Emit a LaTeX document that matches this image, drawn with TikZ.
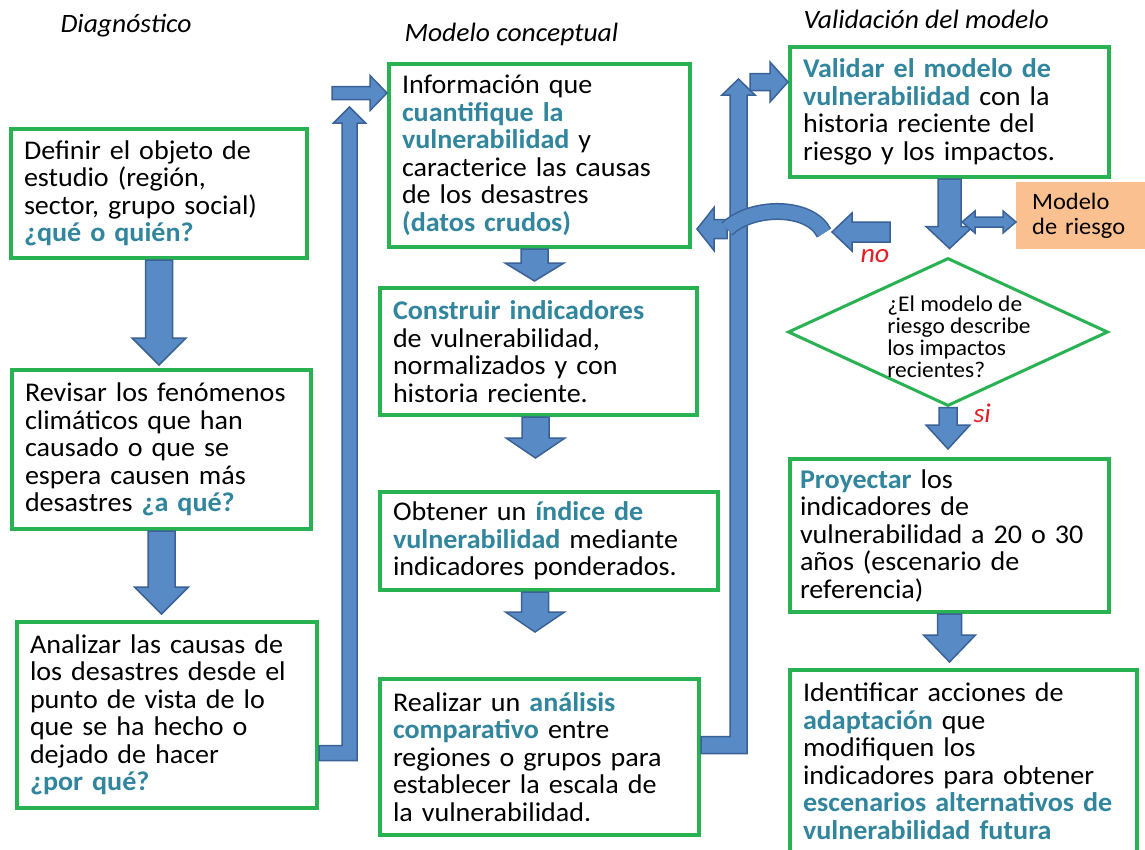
\documentclass[tikz,border=0pt]{standalone}
\usepackage{fontspec}
\setmainfont{Carlito}[FakeStretch=1.04]
\usetikzlibrary{shapes.geometric,calc}
\definecolor{boxgreen}{RGB}{40,178,82}
\definecolor{tblue}{RGB}{49,133,156}
\definecolor{blkfill}{RGB}{88,138,198}
\definecolor{blkline}{RGB}{58,98,150}
\definecolor{nored}{RGB}{228,30,36}
\definecolor{orangefill}{RGB}{250,192,144}
\newcommand\bluebf[1]{\textcolor{tblue}{\textbf{#1}}}
% down block arrow: from, tip, half shaft, half head, head length
\newcommand\blkdown[5]{%
 \path[blk] let \p1=#1, \p2=#2 in ({\x1-#3},\y1) -- ({\x1+#3},\y1) -- ({\x1+#3},{\y2+#5}) -- ({\x1+#4},{\y2+#5}) -- (\x1,\y2) -- ({\x1-#4},{\y2+#5}) -- ({\x1-#3},{\y2+#5}) -- cycle;}
% right block arrow
\newcommand\blkright[5]{%
 \path[blk] let \p1=#1, \p2=#2 in (\x1,{\y1+#3}) -- ({\x2-#5},{\y1+#3}) -- ({\x2-#5},{\y1+#4}) -- (\x2,\y1) -- ({\x2-#5},{\y1-#4}) -- ({\x2-#5},{\y1-#3}) -- (\x1,{\y1-#3}) -- cycle;}
% left block arrow
\newcommand\blkleft[5]{%
 \path[blk] let \p1=#1, \p2=#2 in (\x1,{\y1+#3}) -- ({\x2+#5},{\y1+#3}) -- ({\x2+#5},{\y1+#4}) -- (\x2,\y1) -- ({\x2+#5},{\y1-#4}) -- ({\x2+#5},{\y1-#3}) -- (\x1,{\y1-#3}) -- cycle;}
% double horizontal arrow
\newcommand\blkdbl[5]{%
 \path[blk] let \p1=#1, \p2=#2 in (\x1,\y1) -- ({\x1+#5},{\y1+#4}) -- ({\x1+#5},{\y1+#3}) -- ({\x2-#5},{\y1+#3}) -- ({\x2-#5},{\y1+#4}) -- (\x2,\y1) -- ({\x2-#5},{\y1-#4}) -- ({\x2-#5},{\y1-#3}) -- ({\x1+#5},{\y1-#3}) -- ({\x1+#5},{\y1-#4}) -- cycle;}
% L-shaped connector: start at box side, tip at top
\newcommand\blkLup[5]{%
 \path[blk] let \p1=#1, \p3=#2 in (\x1,{\y1+#3}) -- ({\x3-#3},{\y1+#3}) -- ({\x3-#3},{\y3-#5}) -- ({\x3-#4},{\y3-#5}) -- (\x3,\y3) -- ({\x3+#4},{\y3-#5}) -- ({\x3+#3},{\y3-#5}) -- ({\x3+#3},{\y1-#3}) -- (\x1,{\y1-#3}) -- cycle;}
\begin{document}
\begin{tikzpicture}[x=1pt,y=-1pt,
  gbox/.style={draw=boxgreen,line width=4pt,fill=white,align=left,anchor=north west,
    inner xsep=13pt,inner ysep=0pt,font=\fontsize{27}{27.5}\selectfont},
  blk/.style={fill=blkfill,draw=blkline,line width=1.5pt,line join=miter},
  head/.style={anchor=base west,font=\fontsize{26.5}{30}\selectfont\itshape},
  ans/.style={anchor=base west,text=nored,font=\fontsize{27}{30}\selectfont\itshape}]
\fill[white] (0,0) rectangle (1145,849);
\useasboundingbox (0,0) rectangle (1145,849);

% headings
\node[head] (h1) at (57,32) {Diagnóstico};
\node[head] (h2) at (401,41) {Modelo conceptual};
\node[head] (h3) at (800,28) {Validación del modelo};

% coordinates for connectors
\coordinate (c1) at (349.5,753);
\coordinate (t1) at (349.5,107);
\coordinate (c2) at (738.5,745);
\coordinate (t2) at (738.5,79);
\coordinate (a1) at (332,93);
\coordinate (a2) at (750,82);
\coordinate (n1) at (890,232);
\coordinate (n2) at (832,232);
\coordinate (n3) at (727,229);
\coordinate (ar) at (824,233);
\coordinate (d1) at (962,222);

% left column
\node[gbox,minimum width=296pt,minimum height=129pt,text width=270pt] (b1) at (9,127)
 {Definir el objeto de\\estudio (región,\\sector, grupo social)\\\bluebf{¿qué o quién?}};
\node[gbox,minimum width=299pt,minimum height=159pt,text width=273pt] (b2) at (10,368)
 {Revisar los fenómenos\\climáticos que han\\causado o que se\\espera causen más\\desastres \bluebf{¿a qué?}};
\node[gbox,minimum width=300pt,minimum height=186pt,text width=274pt] (b3) at (15,620)
 {Analizar las causas de\\los desastres desde el\\punto de vista de lo\\que se ha hecho o\\dejado de hacer\\\bluebf{¿por qué?}};

% middle column
\node[gbox,minimum width=301pt,minimum height=183pt,text width=275pt] (b4) at (387,62)
 {Información que\\\bluebf{cuantifique la}\\\bluebf{vulnerabilidad} y\\caracterice las causas\\de los desastres\\\bluebf{(datos crudos)}};
\node[gbox,minimum width=317pt,minimum height=127pt,text width=291pt] (b5) at (378,286)
 {\bluebf{Construir indicadores}\\de vulnerabilidad,\\normalizados y con\\historia reciente.};
\node[gbox,minimum width=338pt,minimum height=98pt,text width=312pt] (b6) at (378,490)
 {Obtener un \bluebf{índice de}\\\bluebf{vulnerabilidad} mediante\\indicadores ponderados.};
\node[gbox,minimum width=319pt,minimum height=156pt,text width=293pt] (b7) at (378,677)
 {Realizar un \bluebf{análisis}\\\bluebf{comparativo} entre\\regiones o grupos para\\establecer la escala de\\la vulnerabilidad.};

% right column
\node[gbox,minimum width=319pt,minimum height=130pt,text width=293pt] (b8) at (788,45)
 {\bluebf{Validar el modelo de}\\\bluebf{vulnerabilidad} con la\\historia reciente del\\riesgo y los impactos.};
\node[fill=orangefill,anchor=north west,align=left,inner xsep=16pt,inner ysep=0pt,
  text width=108pt,minimum height=67pt,font=\fontsize{23.5}{25}\selectfont] (mr) at (1016,182)
 {Modelo\\de riesgo};
\node[diamond,draw=boxgreen,line width=3pt,minimum width=320pt,minimum height=148pt,inner sep=0pt] (d) at (948,332) {};
\node[align=left,inner sep=0pt,font=\fontsize{22.5}{22}\selectfont] (dt) at (959,337)
 {¿El modelo de\\riesgo describe\\los impactos\\recientes?};
\node[gbox,minimum width=319pt,minimum height=153pt,text width=299pt,inner xsep=10pt] (b9) at (788,457)
 {\bluebf{Proyectar} los\\indicadores de\\vulnerabilidad a 20 o 30\\años (escenario de\\referencia)};
\node[gbox,minimum width=347pt,minimum height=182pt,text width=321pt] (b10) at (788,668)
 {Identificar acciones de\\\bluebf{adaptación} que\\modifiquen los\\indicadores para obtener\\\bluebf{escenarios alternativos de}\\\bluebf{vulnerabilidad futura}};

% down block arrows
\blkdown{(b1.south)}{([yshift=3pt]b2.north)}{13.5pt}{27pt}{27pt}
\blkdown{(b2.south)}{([yshift=6pt]b3.north)}{13.5pt}{27pt}{27pt}
\blkdown{([xshift=-5pt]b4.south)}{([yshift=5pt]b5.north)}{13.5pt}{29.5pt}{18pt}
\blkdown{([xshift=-3pt]b5.south)}{([yshift=32pt]b6.north)}{13.5pt}{29.5pt}{20pt}
\blkdown{([xshift=-14pt]b6.south)}{([yshift=45pt]b7.north)}{13.5pt}{29.5pt}{20pt}
\blkdown{(b8.south)}{([yshift=8pt]d.north)}{11.5pt}{23.5pt}{22pt}
\blkdown{(d.south)}{([yshift=8pt]b9.north)}{9pt}{22pt}{24pt}
\blkdown{(b9.south)}{([yshift=6pt]b10.north)}{12pt}{26pt}{27pt}

% L connectors and entry arrows
\blkLup{(b3.east |- c1)}{(t1)}{7.5pt}{16pt}{16pt}
\blkright{(a1)}{(b4.west |- a1)}{6.5pt}{17.5pt}{17pt}
\blkLup{(b7.east |- c2)}{(t2)}{8.5pt}{16.5pt}{16pt}
\blkright{(a2)}{(b8.west |- a2)}{8.5pt}{20pt}{18pt}

% feedback "no"
\blkleft{(n3)}{($(b4.east |- n3)+(5,0)$)}{9.5pt}{21.5pt}{17pt}
\draw[blkline,line width=17pt] (n3) .. controls (752,205) and (810,205) .. (ar);
\draw[blkfill,line width=14pt] (n3) .. controls (752,205) and (810,205) .. (ar);
\blkleft{(n1)}{(n2)}{10pt}{19pt}{20pt}

% double arrow to risk model
\blkdbl{(d1)}{(mr.west |- d1)}{5pt}{11pt}{13pt}

% answers
\node[ans] (no) at (857,262) {no};
\node[ans] (si) at (970,422) {si};
\end{tikzpicture}
\end{document}
